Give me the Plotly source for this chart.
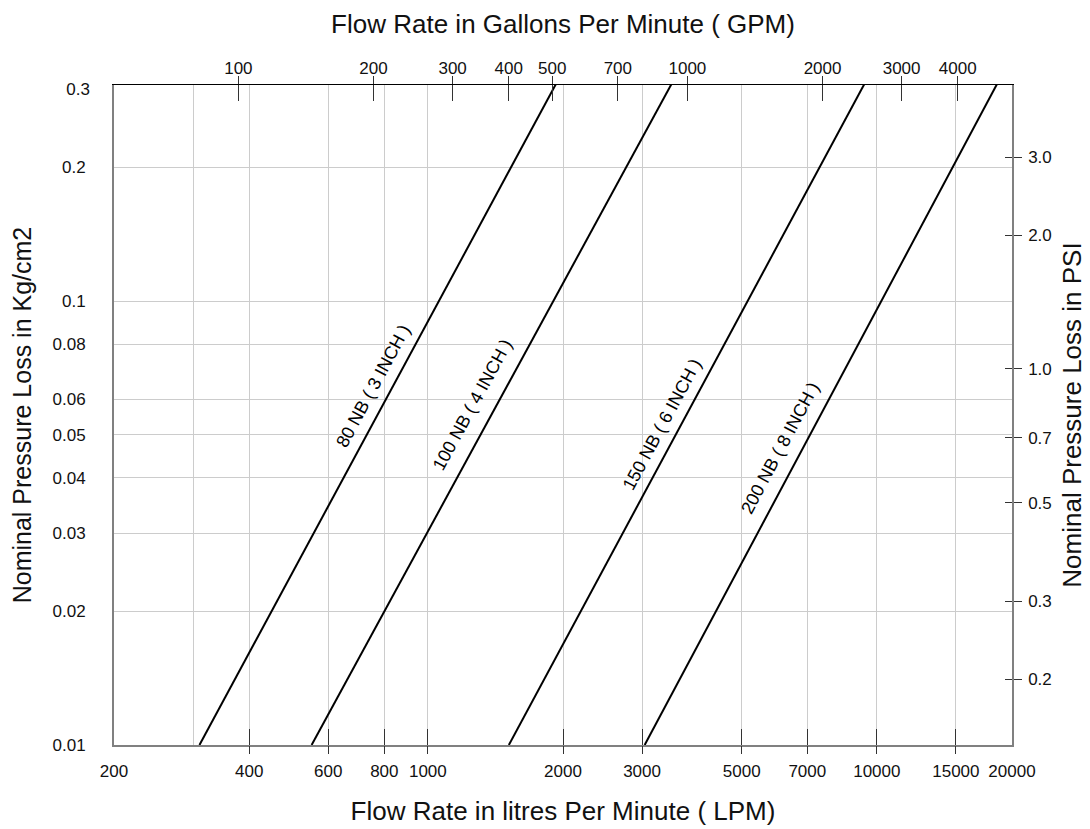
import math
import plotly.graph_objects as go

# ---------------- data ----------------
pressure_points = [0.01, 0.31]            # Kg/cm2 at the two ends of each line
line_names = ["80 NB ( 3 INCH )", "100 NB ( 4 INCH )",
              "150 NB ( 6 INCH )", "200 NB ( 8 INCH )"]
flow_80nb = [310, 1935]                  # LPM at pressure_points
flow_100nb = [551, 3500]
flow_150nb = [1515, 9410]
flow_200nb = [3040, 18580]
label_pressure = [0.0644, 0.0582, 0.0528, 0.0467]   # where each line label sits
label_xshift = [-20, -24, -19, -23]

lpm_label_vals = [200, 400, 600, 800, 1000, 2000, 3000, 5000, 7000, 10000, 15000, 20000]
lpm_mark_vals = [400, 600, 800, 1000, 2000, 3000, 5000, 7000, 10000, 15000]
lpm_minor_grid = [300]
gpm_vals = [100, 200, 300, 400, 500, 700, 1000, 2000, 3000, 4000]
kg_vals = [0.01, 0.02, 0.03, 0.04, 0.05, 0.06, 0.08, 0.1, 0.2]
kg_top_val = [0.3]
psi_vals = [0.2, 0.3, 0.5, 0.7, 1.0, 2.0, 3.0]
psi_text = ["0.2", "0.3", "0.5", "0.7", "1.0", "2.0", "3.0"]

LPM_PER_GPM = 3.785
PSI_PER_KG = 14.223
x_min, x_max = 200, 20000
y_min, y_max = 0.01, 0.3066

# ---------------- layout geometry ----------------
W, H = 1090, 829
ML, MR, MT, MB = 106, 86, 77, 92
FONT = "Liberation Sans, Arial, Helvetica, sans-serif"
GRID = "#cccccc"
TICKC = "#333333"

lx = [math.log10(x_min), math.log10(x_max)]
ly = [math.log10(y_min), math.log10(y_max)]
lx_gpm = [math.log10(x_min / LPM_PER_GPM), math.log10(x_max / LPM_PER_GPM)]
ly_psi = [math.log10(y_min * PSI_PER_KG), math.log10(y_max * PSI_PER_KG)]

fig = go.Figure()
flows = [flow_80nb, flow_100nb, flow_150nb, flow_200nb]
for name, fl in zip(line_names, flows):
    fig.add_trace(go.Scatter(x=fl, y=pressure_points, mode="lines", name=name,
                             line=dict(color="black", width=2), showlegend=False,
                             hoverinfo="skip"))

# empty helper traces so the secondary (GPM / PSI / tick-mark) axes are drawn
for xa, ya in [("x2", "y2"), ("x3", "y3"), ("x4", "y4")]:
    fig.add_trace(go.Scatter(x=[], y=[], xaxis=xa, yaxis=ya, mode="lines",
                             showlegend=False, hoverinfo="skip"))

ppd_x = (W - ML - MR) / (lx[1] - lx[0])
ppd_y = (H - MT - MB) / (ly[1] - ly[0])
annotations = []
for name, fl, lp, xs in zip(line_names, flows, label_pressure, label_xshift):
    lq0, lq1 = math.log10(fl[0]), math.log10(fl[1])
    lp0, lp1 = math.log10(pressure_points[0]), math.log10(pressure_points[1])
    slope = (lp1 - lp0) / (lq1 - lq0)
    lq = lq0 + (math.log10(lp) - lp0) / slope
    ang = -math.degrees(math.atan(slope * ppd_y / ppd_x))
    annotations.append(dict(x=lq, y=math.log10(lp), xref="x", yref="y", text=name,
                            showarrow=False, textangle=ang, xshift=xs,
                            xanchor="center", yanchor="middle",
                            font=dict(family=FONT, size=18, color="black")))

tickfont = dict(family=FONT, size=17, color="#111111")
titlefont = dict(family=FONT, size=26, color="#111111")

fig.update_layout(
    width=W, height=H, margin=dict(l=ML, r=MR, t=MT, b=MB),
    paper_bgcolor="white", plot_bgcolor="white", showlegend=False,
    annotations=annotations,
    xaxis=dict(type="log", range=lx, tickvals=lpm_label_vals,
               ticktext=[str(v) for v in lpm_label_vals],
               ticks="inside", ticklen=16, tickwidth=1, tickcolor=TICKC,
               showgrid=True, gridcolor=GRID, gridwidth=1, zeroline=False,
               showline=True, linecolor="#808080", linewidth=2,
               tickfont=tickfont, ticklabelstandoff=10,
               minor=dict(tickvals=lpm_minor_grid, showgrid=True, gridcolor=GRID,
                          gridwidth=1, ticks=""),
               title=dict(text="Flow Rate in litres Per Minute ( LPM)", font=titlefont,
                          standoff=21)),
    xaxis3=dict(type="log", range=lx, overlaying="x", side="bottom",
                tickvals=lpm_mark_vals, ticks="outside", ticklen=8, tickwidth=1,
                tickcolor=TICKC, showticklabels=False, showgrid=False, showline=False,
                zeroline=False),
    xaxis2=dict(type="log", range=lx_gpm, overlaying="x", side="top",
                tickvals=gpm_vals, ticktext=[str(v) for v in gpm_vals],
                ticks="inside", ticklen=16, tickwidth=1, tickcolor=TICKC,
                showgrid=False, zeroline=False, showline=True, linecolor="black",
                linewidth=1.3, tickfont=tickfont, ticklabelstandoff=3,
                title=dict(text="Flow Rate in Gallons Per Minute ( GPM)", font=titlefont,
                           standoff=17)),
    xaxis4=dict(type="log", range=lx_gpm, overlaying="x", side="top",
                tickvals=gpm_vals, ticks="outside", ticklen=8, tickwidth=1,
                tickcolor=TICKC, showticklabels=False, showgrid=False, showline=False,
                zeroline=False),
    yaxis=dict(type="log", range=ly, tickvals=kg_vals,
               ticktext=[("%g" % v) for v in kg_vals], ticks="",
               showgrid=True, gridcolor=GRID, gridwidth=1, zeroline=False,
               showline=True, linecolor="#808080", linewidth=2,
               tickfont=tickfont, ticklabelstandoff=23,
               title=dict(text="Nominal Pressure Loss in Kg/cm2",
                          font=dict(family=FONT, size=25, color="#111111"),
                          standoff=16)),
    yaxis4=dict(type="log", range=ly, overlaying="y", side="left",
                tickvals=kg_top_val, ticktext=["0.3"], ticks="",
                showgrid=False, zeroline=False, showline=False,
                tickfont=tickfont, ticklabelstandoff=23),
    yaxis2=dict(type="log", range=ly_psi, overlaying="y", side="right",
                tickvals=psi_vals, ticktext=psi_text, ticks="outside", ticklen=8,
                tickwidth=1, tickcolor=TICKC, showgrid=False, zeroline=False,
                showline=True, linecolor="#808080", linewidth=1.5,
                tickfont=tickfont, ticklabelstandoff=3,
                title=dict(text="Nominal Pressure Loss in PSI", font=titlefont,
                           standoff=12)),
    yaxis3=dict(type="log", range=ly_psi, overlaying="y", side="right",
                tickvals=psi_vals, ticks="inside", ticklen=7, tickwidth=1,
                tickcolor=TICKC, showticklabels=False, showgrid=False, showline=False,
                zeroline=False),
)

fig.write_html("out.html")
